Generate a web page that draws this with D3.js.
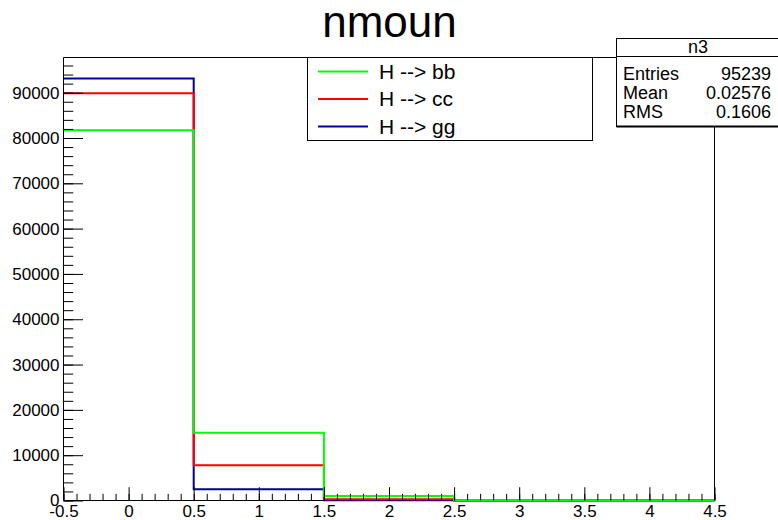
<!DOCTYPE html>
<html>
<head>
<meta charset="utf-8">
<script src="https://cdn.jsdelivr.net/npm/d3@7"></script>
<style>
	body { margin: 0; background: #fff; }
	svg { display: block; font-family: "Liberation Sans", Arial, sans-serif; }
</style>
</head>
<body>
<div id="chart"></div>
<script>
// bin edges of nmoun and the counts per bin
const binEdges = [-0.5, 0.5, 1.5, 2.5, 3.5, 4.5];
const bbCounts = [81720, 14970, 1010, 30, 2];
const ccCounts = [89890, 7770, 290, 10, 0];
const ggCounts = [93110, 2470, 60, 0, 0];

const seriesNames = ["H --> bb", "H --> cc", "H --> gg"];
const seriesColors = ["#00ff00", "#ff0000", "#000099"];

const xTickValues = [-0.5, 0, 0.5, 1, 1.5, 2, 2.5, 3, 3.5, 4, 4.5];
const xTickLabels = ["-0.5", "0", "0.5", "1", "1.5", "2", "2.5", "3", "3.5", "4", "4.5"];
const yTickValues = [0, 10000, 20000, 30000, 40000, 50000, 60000, 70000, 80000, 90000];

const statsName = "n3";
const statsLabels = ["Entries", "Mean", "RMS"];
const statsValues = ["95239", "0.02576", "0.1606"];

const chartTitle = "nmoun";

function drawChart() {
	const width = 778
	const height = 520
	const frame = ({ left: 63.5, right: 714.5, top: 57.5, bottom: 500.5 })

	const allCounts = [bbCounts, ccCounts, ggCounts]
	const yMax = d3.max(allCounts, c => d3.max(c)) * 1.05

	const x = d3.scaleLinear().domain([binEdges[0], binEdges[binEdges.length - 1]]).range([frame.left, frame.right])
	const y = d3.scaleLinear().domain([0, yMax]).range([frame.bottom, frame.top])

	const svg = d3.select("#chart").append("svg")
		.attr("width", width)
		.attr("height", height)

	svg.append("rect").attr("width", width).attr("height", height).attr("fill", "#fff")

	// title
	svg.append("text")
		.attr("x", 389.5)
		.attr("y", 36.7)
		.attr("text-anchor", "middle")
		.attr("font-size", 44)
		.text(chartTitle)

	const frameW = frame.right - frame.left
	const frameH = frame.bottom - frame.top

	// histograms, gg first so bb ends up on top (frame drawn after, so edges stay black)
	const histLine = d3.line().x(d => x(d[0])).y(d => y(d[1]))
	function stepPoints(counts) {
		const pts = []
		counts.forEach((c, i) => {
			pts.push([binEdges[i], c])
			pts.push([binEdges[i + 1], c])
		})
		return pts
	}
	const drawOrder = [2, 1, 0]
	drawOrder.forEach(i => {
		svg.append("path")
			.attr("d", histLine(stepPoints(allCounts[i])))
			.attr("fill", "none")
			.attr("stroke", seriesColors[i])
			.attr("stroke-width", 2)
	})

	// minor ticks (no labels)
	const xMinor = d3.range(-5, 46).map(i => i / 10)
	const yMinor = d3.range(0, yMax, 2000)

	svg.append("g")
		.attr("transform", `translate(0,${frame.bottom})`)
		.call(d3.axisBottom(x).tickValues(xMinor).tickSize(-frameH * 0.015).tickFormat(""))
		.call(g => g.select(".domain").remove())

	svg.append("g")
		.attr("transform", `translate(${frame.left},0)`)
		.call(d3.axisLeft(y).tickValues(yMinor).tickSize(-frameW * 0.015).tickFormat(""))
		.call(g => g.select(".domain").remove())

	// major ticks + labels
	svg.append("g")
		.attr("transform", `translate(0,${frame.bottom})`)
		.call(d3.axisBottom(x).tickValues(xTickValues).tickSize(-frameH * 0.03).tickPadding(4)
			.tickFormat((d, i) => xTickLabels[i]))
		.call(g => g.select(".domain").remove())
		.call(g => g.selectAll("text").attr("font-size", 17).attr("fill", "#000").attr("font-family", "Liberation Sans, Arial, sans-serif"))

	svg.append("g")
		.attr("transform", `translate(${frame.left},0)`)
		.call(d3.axisLeft(y).tickValues(yTickValues).tickSize(-frameW * 0.03).tickPadding(4)
			.tickFormat(d => String(d)))
		.call(g => g.select(".domain").remove())
		.call(g => g.selectAll("text").attr("font-size", 17).attr("fill", "#000").attr("font-family", "Liberation Sans, Arial, sans-serif"))

	svg.selectAll(".tick line").attr("stroke", "#000")

	// frame: left, right and top sides (bottom stays under the histogram lines)
	svg.append("path")
		.attr("d", `M${frame.left},${frame.bottom}V${frame.top}H${frame.right}V${y(d3.max(allCounts, c => c[c.length - 1])) - 1}`)
		.attr("fill", "none")
		.attr("stroke", "#000")
	svg.insert("line", "path")
		.attr("x1", frame.left).attr("x2", frame.right)
		.attr("y1", frame.bottom).attr("y2", frame.bottom)
		.attr("stroke", "#000")

	// legend
	const legend = svg.append("g")
	legend.append("rect")
		.attr("x", 307.5).attr("y", 57.5)
		.attr("width", 285).attr("height", 83)
		.attr("fill", "#fff").attr("stroke", "#000")
	seriesNames.forEach((name, i) => {
		const ly = 71.5 + i * 27.5
		legend.append("line")
			.attr("x1", 318).attr("x2", 368)
			.attr("y1", ly).attr("y2", ly)
			.attr("stroke", seriesColors[i]).attr("stroke-width", 2)
		legend.append("text")
			.attr("x", 379).attr("y", ly + 7)
			.attr("font-size", 21)
			.text(name)
	})

	// stats box
	const stats = svg.append("g")
	stats.append("rect")
		.attr("x", 616.5).attr("y", 38.5)
		.attr("width", 170).attr("height", 88)
		.attr("fill", "#fff").attr("stroke", "#000")
	stats.append("line")
		.attr("x1", 616.5).attr("x2", 786)
		.attr("y1", 126.5).attr("y2", 126.5)
		.attr("stroke", "#000").attr("stroke-width", 2)
	stats.append("line")
		.attr("x1", 616.5).attr("x2", 786)
		.attr("y1", 56.5).attr("y2", 56.5)
		.attr("stroke", "#000")
	stats.append("text")
		.attr("x", 698).attr("y", 52.5)
		.attr("text-anchor", "middle")
		.attr("font-size", 18)
		.text(statsName)
	statsLabels.forEach((lab, i) => {
		const sy = 79.5 + i * 19
		stats.append("text").attr("x", 623).attr("y", sy).attr("font-size", 18).text(lab)
		stats.append("text").attr("x", 771).attr("y", sy).attr("font-size", 18)
			.attr("text-anchor", "end").text(statsValues[i])
	})
}

drawChart()
</script>
</body>
</html>
